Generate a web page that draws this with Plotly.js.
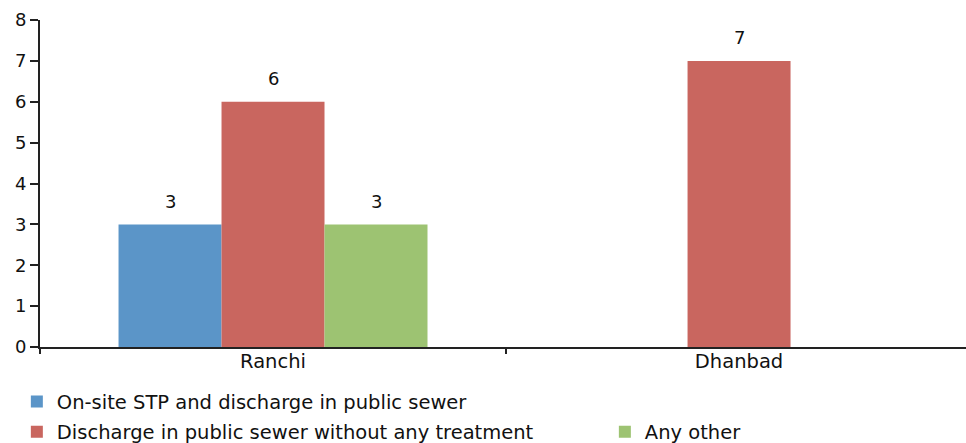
<!DOCTYPE html>
<html>
<head>
<meta charset="utf-8">
<script src="https://cdn.plot.ly/plotly-3.0.1.min.js"></script>
<style>html,body{margin:0;padding:0;background:#fff;}#chart{width:966px;height:443px;}</style>
</head>
<body>
<div id="chart"></div>
<script>
const categories = ["Ranchi", "Dhanbad"];
const seriesNames = ["On-site STP and discharge in public sewer", "Discharge in public sewer without any treatment", "Any other"];
const onSiteSTP = [3, null];
const sewerNoTreatment = [6, 7];
const anyOther = [3, null];
const yTicks = [0, 1, 2, 3, 4, 5, 6, 7, 8];

const colors = ["#5B95C8", "#C9665F", "#9DC372"];
const seriesValues = [onSiteSTP, sewerNoTreatment, anyOther];
const legendIds = ["legend", "legend2", "legend3"];
const FONT = "DejaVu Sans";
const bargap = 0.337;
const barW = (1 - bargap) / 3;

const traces = seriesValues.map((vals, i) => ({
  type: "bar",
  name: seriesNames[i],
  x: categories,
  y: vals,
  marker: {color: colors[i], line: {width: 0}},
  legend: legendIds[i],
  hoverinfo: "none"
}));

const annotations = [];
seriesValues.forEach((vals, i) => {
  vals.forEach((v, j) => {
    if (v === null) return;
    annotations.push({
      x: j + (i - 1) * barW, y: v, xref: "x", yref: "y",
      text: String(v), showarrow: false, yanchor: "middle", yshift: 23,
      font: {family: FONT, size: 18, color: "#111"}
    });
  });
});

const legFont = {family: FONT, size: 19.5, color: "#111"};
const layout = {
  width: 966, height: 443,
  margin: {l: 40, r: 0, t: 20, b: 96, autoexpand: false},
  paper_bgcolor: "#fff", plot_bgcolor: "#fff",
  barmode: "group", bargap: bargap, bargroupgap: 0,
  font: {family: FONT, size: 18, color: "#111"},
  xaxis: {
    type: "category", range: [-0.5, 1.487],
    showline: true, linecolor: "#222", linewidth: 2,
    ticks: "outside", tickson: "boundaries", ticklen: 5, tickcolor: "#222", tickwidth: 2,
    showgrid: false, zeroline: false, tickangle: 0, ticklabelstandoff: -4,
    tickfont: {family: FONT, size: 19.5, color: "#111"}
  },
  yaxis: {
    range: [0, 8], tickmode: "array", tickvals: yTicks,
    showline: true, linecolor: "#222", linewidth: 2,
    ticks: "outside", ticklen: 8, tickcolor: "#222", tickwidth: 2,
    showgrid: false, zeroline: false,
    tickfont: {family: FONT, size: 18, color: "#111"}
  },
  showlegend: true,
  legend: {
    orientation: "v", x: -0.025, xanchor: "left", y: -0.168, yanchor: "middle",
    font: legFont, bgcolor: "rgba(0,0,0,0)"
  },
  legend2: {
    orientation: "v", x: -0.025, xanchor: "left", y: -0.26, yanchor: "middle",
    font: legFont, bgcolor: "rgba(0,0,0,0)"
  },
  legend3: {
    orientation: "v", x: 0.61, xanchor: "left", y: -0.26, yanchor: "middle",
    font: legFont, bgcolor: "rgba(0,0,0,0)"
  },
  annotations: annotations
};

Plotly.newPlot("chart", traces, layout, {displayModeBar: false, staticPlot: true});
</script>
</body>
</html>
